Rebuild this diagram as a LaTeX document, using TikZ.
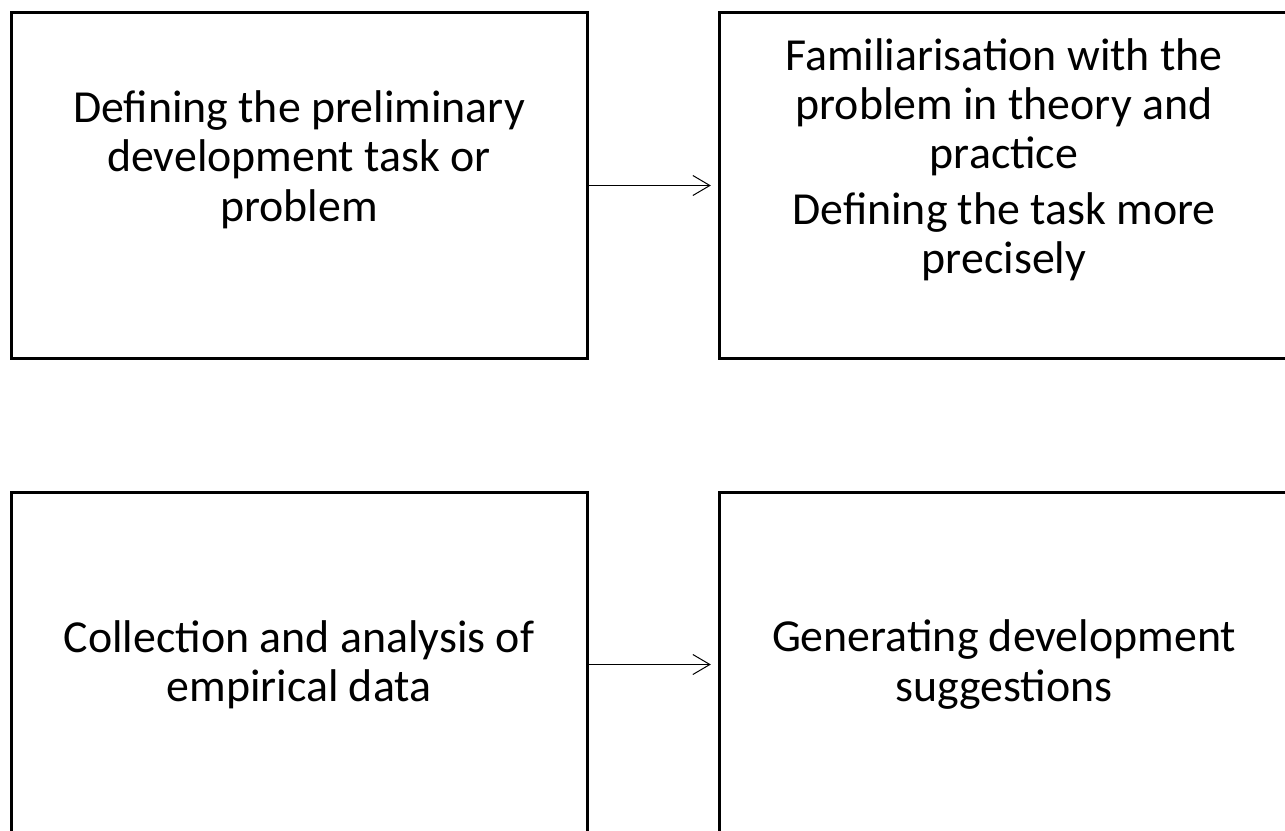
\documentclass[tikz,border=0pt]{standalone}
\usepackage{fontspec}
\setmainfont{Carlito}
\usetikzlibrary{arrows.meta}
\usetikzlibrary{positioning}

\begin{document}
\begin{tikzpicture}[
  x=0.75pt, y=-0.75pt,
  stepbox/.style={draw, line width=2.25pt, minimum width=432pt, minimum height=258.75pt, inner sep=0pt},
  steptext/.style={align=center, inner sep=0pt, font=\fontsize{34.4}{37}\selectfont},
  flow/.style={line width=0.75pt, -{Straight Barb[length=12.75pt,width=15pt]}, shorten >=5pt}]
\useasboundingbox (0,0) rectangle (1285,831);
\clip (0,0) rectangle (1285,831);
% top row
\node[stepbox] (define) at (299,185.5) {};
\node[stepbox, minimum width=427.5pt] (familiar) at (1004,185.5) {};
\node[steptext] (definetxt) at ([yshift=19.5pt]define.center) {Defining the preliminary\\development task or\\problem};
\node[steptext] (familiartxt) at ([yshift=19.5pt]familiar.center) {Familiarisation with the\\problem in theory and\\practice\\[4.5pt]Defining the task more\\precisely};
% bottom row
\node[stepbox] (collect) at (299,664.5) {};
\node[stepbox, minimum width=427.5pt] (generate) at (1004,664.5) {};
\node[steptext] (collecttxt) at (collect.center) {Collection and analysis of\\empirical data};
\node[steptext] (generatetxt) at (generate.center) {Generating development\\suggestions};
\draw[flow] (define) -- (familiar);
\draw[flow] (collect) -- (generate);
\end{tikzpicture}
\end{document}
